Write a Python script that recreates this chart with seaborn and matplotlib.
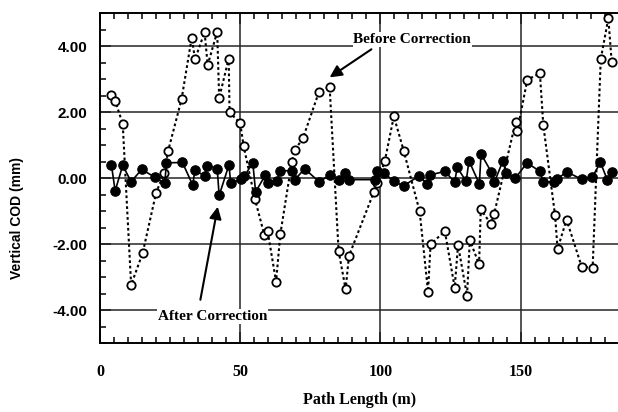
import matplotlib
matplotlib.use("Agg")
import matplotlib.pyplot as plt
from matplotlib.ticker import MultipleLocator, FixedLocator
import seaborn as sns
import pandas as pd

# ---- data ----
before_x = [4.1, 5.4, 8.1, 11.1, 15.2, 20.0, 22.8, 24.3, 29.1, 32.7, 33.9, 37.3, 38.4,
            41.8, 42.5, 45.9, 46.2, 50.0, 51.2, 55.3, 58.6, 59.8, 62.8, 64.3, 68.4,
            69.6, 72.4, 78.1, 81.9, 85.1, 87.6, 88.8, 97.7, 98.9, 101.6, 104.8, 108.3,
            114.0, 117.0, 117.9, 123.0, 126.5, 127.7, 130.9, 131.9, 135.2, 135.8,
            139.4, 140.6, 148.2, 148.8, 152.4, 156.9, 158.1, 162.3, 163.2, 166.4,
            171.8, 175.7, 178.6, 181.3, 182.5]
before_y = [2.52, 2.34, 1.64, -3.24, -2.28, -0.45, 0.14, 0.82, 2.39, 4.25, 3.60, 4.42, 3.42,
            4.43, 2.42, 3.62, 1.99, 1.66, 0.98, -0.65, -1.72, -1.62, -3.14, -1.71, 0.48,
            0.86, 1.21, 2.61, 2.76, -2.21, -3.37, -2.36, -0.42, -0.14, 0.52, 1.87, 0.83,
            -1.01, -3.44, -2.01, -1.61, -3.32, -2.03, -3.57, -1.88, -2.62, -0.95,
            -1.39, -1.08, 1.69, 1.41, 2.98, 3.17, 1.61, -1.13, -2.15, -1.26,
            -2.69, -2.72, 3.60, 4.84, 3.52]

after_x = [4.1, 5.4, 8.1, 11.1, 14.9, 19.6, 23.1, 23.7, 29.4, 33.1, 33.8, 37.4, 38.1,
           41.8, 42.5, 46.0, 46.6, 50.4, 51.5, 54.5, 55.5, 59.0, 59.8, 63.3, 64.2,
           68.6, 69.5, 73.0, 78.2, 81.9, 85.3, 87.5, 88.9, 98.0, 98.9, 101.3, 104.7,
           108.3, 113.7, 116.8, 117.6, 123.0, 126.5, 127.4, 130.6, 131.6, 135.3,
           135.9, 139.5, 140.7, 143.7, 144.9, 148.1, 152.3, 156.9, 158.1, 161.9,
           163.0, 166.4, 171.8, 175.6, 178.5, 181.0, 182.5]
after_y = [0.38, -0.39, 0.38, -0.11, 0.26, 0.02, -0.15, 0.46, 0.47, -0.22, 0.24, 0.06, 0.37,
           0.28, -0.53, 0.40, -0.15, -0.04, 0.06, 0.46, -0.42, 0.09, -0.15, -0.08, 0.22,
           0.22, -0.05, 0.28, -0.12, 0.09, -0.05, 0.16, -0.05, -0.05, 0.20, 0.16, -0.10,
           -0.24, 0.06, -0.18, 0.09, 0.20, -0.12, 0.32, -0.10, 0.52, -0.18,
           0.73, 0.19, -0.12, 0.52, 0.15, -0.01, 0.46, 0.20, -0.11, -0.12,
           -0.04, 0.19, -0.04, 0.03, 0.47, -0.07, 0.19]

y_ticks = [-4, -2, 0, 2, 4]
y_tick_labels = ["-4.00", "-2.00", "0.00", "2.00", "4.00"]
x_ticks = [0, 50, 100, 150]
x_tick_labels = ["0", "50", "100", "150"]

df_before = pd.DataFrame({"x": before_x, "y": before_y})
df_after = pd.DataFrame({"x": after_x, "y": after_y})

sns.set_style("white")
SERIF = ["Liberation Serif", "DejaVu Serif"]
SANS = ["Liberation Sans", "DejaVu Sans"]

fig = plt.figure(figsize=(6.18, 4.12), dpi=100)
ax = fig.add_axes([100 / 618, 1 - 343 / 412, 1 - 100 / 618, (343 - 13) / 412])

# gridlines
for yv in y_ticks:
    ax.axhline(yv, color="0.15", lw=1.1, zorder=1)
for xv in x_ticks[1:]:
    ax.axvline(xv, color="0.15", lw=1.1, zorder=1)

sns.lineplot(data=df_before, x="x", y="y", ax=ax, estimator=None, sort=False,
             color="black", lw=1.5, linestyle=(0, (1.3, 1.3)),
             marker="o", markersize=6.0, markerfacecolor="white",
             markeredgecolor="black", markeredgewidth=1.3, zorder=3)
sns.lineplot(data=df_after, x="x", y="y", ax=ax, estimator=None, sort=False,
             color="black", lw=1.2, linestyle="-",
             marker="o", markersize=6.8, markerfacecolor="black",
             markeredgecolor="black", markeredgewidth=0.8, zorder=4)

ax.set_xlim(0, (618 - 100.7) / 2.8)
ax.set_ylim(-5, 5)
ax.xaxis.set_major_locator(FixedLocator(x_ticks))
ax.set_xticklabels(x_tick_labels)
ax.xaxis.set_minor_locator(MultipleLocator(5))
ax.yaxis.set_major_locator(FixedLocator(y_ticks))
ax.set_yticklabels(y_tick_labels)
ax.yaxis.set_minor_locator(MultipleLocator(0.5))

ax.tick_params(axis="x", which="both", direction="in", top=True, bottom=True,
               color="black", width=1.1)
ax.tick_params(axis="x", which="major", length=8, pad=15)
ax.tick_params(axis="x", which="minor", length=4)
ax.tick_params(axis="y", which="both", direction="in", left=True, right=False,
               color="black", width=1.1)
ax.tick_params(axis="y", which="major", length=8, pad=9)
ax.tick_params(axis="y", which="minor", length=4)

for lab in ax.get_xticklabels():
    lab.set_fontfamily(SERIF)
    lab.set_fontweight("bold")
    lab.set_fontsize(11.5)
    lab.set_color("black")
for lab in ax.get_yticklabels():
    lab.set_fontfamily(SANS)
    lab.set_fontweight("bold")
    lab.set_fontsize(11)
    lab.set_color("black")

for side in ["left", "top", "bottom"]:
    ax.spines[side].set_visible(True)
    ax.spines[side].set_color("black")
    ax.spines[side].set_linewidth(1.4)
ax.spines["right"].set_visible(False)

ax.set_xlabel("")
ax.set_ylabel("")
fig.text(360 / 618, 1 - 400 / 412, "Path Length (m)", ha="center", va="center",
         family=SERIF, weight="bold", fontsize=11.5, color="black")
fig.text(17 / 618, 1 - 218 / 412, "Vertical COD (mm)", ha="center", va="center",
         rotation=90, family=SANS, weight="bold", fontsize=10, color="black")

# annotations
ax.text(111.4, 4.0, "Before Correction", ha="center", va="bottom",
        family=SERIF, weight="bold", fontsize=11, color="black", zorder=6,
        bbox=dict(facecolor="white", edgecolor="none", pad=0.6))
ax.annotate("", xy=(81.9, 3.05), xytext=(96.8, 3.9),
            arrowprops=dict(arrowstyle="-|>", color="black", lw=1.5,
                            mutation_scale=18, shrinkA=0, shrinkB=0), zorder=6)
ax.text(40.2, -4.0, "After Correction", ha="center", va="top",
        family=SERIF, weight="bold", fontsize=11, color="black", zorder=6,
        bbox=dict(facecolor="white", edgecolor="none", pad=0.8))
ax.annotate("", xy=(42.0, -0.87), xytext=(35.8, -3.69),
            arrowprops=dict(arrowstyle="-|>", color="black", lw=1.5,
                            mutation_scale=18, shrinkA=0, shrinkB=0), zorder=6)

fig.savefig("out.png", dpi=100)
